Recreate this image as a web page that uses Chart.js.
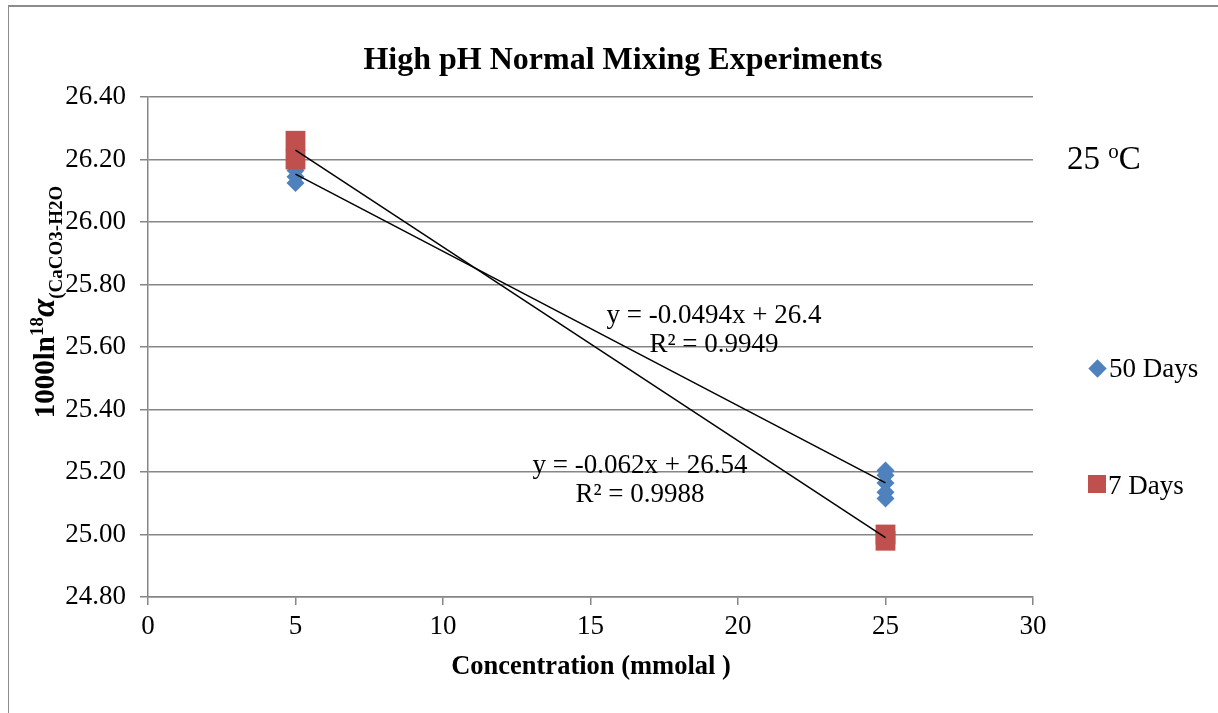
<!DOCTYPE html>
<html>
<head>
<meta charset="utf-8">
<script src="https://cdn.jsdelivr.net/npm/chart.js@4.4.0/dist/chart.umd.min.js"></script>
<style>
  body { margin: 0; background: #fff; font-family: 'Liberation Serif', 'Times New Roman', serif; }
  #wrap { position: relative; width: 1218px; height: 713px; overflow: hidden; }
  #frame { position: absolute; left: 8px; top: 5px; width: 1300px; height: 800px;
           border-top: 2px solid #8c8c8c; border-left: 1px solid #8c8c8c; }
  .txt { position: absolute; white-space: nowrap; color: #000; line-height: 1; transform: translate(-50%, -50%); }
  #title { left: 623px; top: 58px; font-weight: bold; font-size: 32px; }
  #xtitle { left: 591px; top: 665px; font-weight: bold; font-size: 26.5px; }
  #ytitle { left: 46px; top: 302px; font-weight: bold; font-size: 29px;
            transform: translate(-50%, -50%) rotate(-90deg); }
  #ytitle sup { font-size: 19px; vertical-align: 11px; }
  #ytitle sub { font-size: 19px; vertical-align: -8px; }
  #ytitle i { font-size: 33px; }
  #temp { left: 1104px; top: 158px; font-size: 33px; }
  #temp sup { font-size: 21px; vertical-align: 11px; }
  .eq { font-size: 27px; }
  .leg { font-size: 27px; transform: translate(0, -50%); }
  .mk { position: absolute; }
</style>
</head>
<body>
<div id="wrap">
  <div id="frame"></div>
  <canvas id="chart"></canvas>
  <div class="txt" id="title">High pH Normal Mixing Experiments</div>
  <div class="txt" id="xtitle">Concentration (mmolal )</div>
  <div class="txt" id="ytitle">1000ln<sup>18</sup><i>α</i><sub>(CaCO3-H2O</sub></div>
  <div class="txt" id="temp">25 <sup>o</sup>C</div>
  <div class="txt eq" style="left:714px; top:314px;">y = -0.0494x + 26.4</div>
  <div class="txt eq" style="left:714px; top:343px;">R² = 0.9949</div>
  <div class="txt eq" style="left:640px; top:464px;">y = -0.062x + 26.54</div>
  <div class="txt eq" style="left:640px; top:493px;">R² = 0.9988</div>
  <div class="mk" style="left:1091px; top:362px; width:13px; height:13px; background:#4f81bd; transform:rotate(45deg);"></div>
  <div class="txt leg" style="left:1109px; top:368px;">50 Days</div>
  <div class="mk" style="left:1088px; top:475px; width:18px; height:18px; background:#c0504d;"></div>
  <div class="txt leg" style="left:1108px; top:485px;">7 Days</div>
</div>
<script>
// concentrations (mmolal) and 1000ln alpha values
const days50X = [5, 5, 5, 25, 25, 25, 25, 25];
const days50Y = [26.165, 26.145, 26.125, 25.205, 25.19, 25.165, 25.135, 25.115];
const days7X = [5, 5, 25, 25];
const days7Y = [26.26, 26.20, 25.00, 24.98];

// trendline coefficients as printed on the chart
const trend50 = { slope: -0.0494, intercept: 26.4 };
const trend7 = { slope: -0.062, intercept: 26.54 };
const trendX = [5, 25];

const toPoints = (xs, ys) => xs.map((x, i) => ({ x: x, y: ys[i] }));
const trendPoints = t => trendX.map(x => ({ x: x, y: t.slope * x + t.intercept }));

const gridGrey = '#868686';
const tickFont = { family: "'Liberation Serif', 'Times New Roman', serif", size: 27 };

new Chart(document.getElementById('chart'), {
  type: 'scatter',
  data: {
    datasets: [
      {
        label: 'trend 50',
        type: 'line',
        data: trendPoints(trend50),
        borderColor: '#000',
        borderWidth: 1.5,
        pointRadius: 0,
        order: 0
      },
      {
        label: 'trend 7',
        type: 'line',
        data: trendPoints(trend7),
        borderColor: '#000',
        borderWidth: 1.5,
        pointRadius: 0,
        order: 0
      },
      {
        label: '7 Days',
        data: toPoints(days7X, days7Y),
        pointStyle: 'rect',
        pointRadius: 14,
        backgroundColor: '#c0504d',
        borderColor: '#c0504d',
        borderWidth: 0,
        order: 1
      },
      {
        label: '50 Days',
        data: toPoints(days50X, days50Y),
        pointStyle: 'rectRot',
        pointRadius: 9,
        backgroundColor: '#4f81bd',
        borderColor: '#4f81bd',
        borderWidth: 0,
        order: 2
      }
    ]
  },
  options: {
    responsive: true,
    maintainAspectRatio: false,
    animation: false,
    layout: { padding: { left: 0, top: 97, right: 185, bottom: 66 } },
    plugins: {
      legend: { display: false },
      tooltip: { enabled: false }
    },
    scales: {
      x: {
        type: 'linear',
        min: 0,
        max: 30,
        ticks: { stepSize: 5, color: '#000', font: tickFont, padding: 6 },
        grid: { drawOnChartArea: false, drawTicks: true, tickLength: 8, color: gridGrey, lineWidth: 1.5 },
        border: { display: true, color: gridGrey, width: 1.5 },
        afterFit: s => { s.height = 50; }
      },
      y: {
        min: 24.8,
        max: 26.4,
        ticks: {
          stepSize: 0.2,
          color: '#000',
          font: tickFont,
          padding: 14,
          callback: v => Number(v).toFixed(2)
        },
        grid: { color: gridGrey, lineWidth: 1.5, drawTicks: true, tickLength: 8 },
        border: { display: true, color: gridGrey, width: 1.5 },
        afterFit: s => { s.width = 148; }
      }
    }
  }
});
</script>
</body>
</html>
